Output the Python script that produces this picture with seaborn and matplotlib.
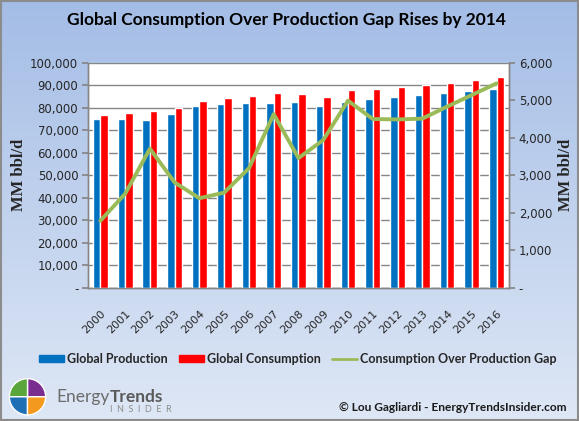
import numpy as np
import pandas as pd
import matplotlib
matplotlib.use('Agg')
import matplotlib.pyplot as plt
import seaborn as sns
from matplotlib.patches import Patch, Wedge, Rectangle
from matplotlib.lines import Line2D

# Data
years = ['2000', '2001', '2002', '2003', '2004', '2005', '2006', '2007', '2008',
         '2009', '2010', '2011', '2012', '2013', '2014', '2015', '2016']
production = [74900, 74900, 74450, 77100, 80670, 81560, 82000, 82000, 82440,
              80670, 82440, 83780, 84670, 85560, 86440, 87330, 88220]
consumption = [76670, 77700, 78440, 79930, 82900, 84220, 85100, 86440, 86000,
               84670, 87780, 88220, 89100, 90000, 91040, 92220, 93560]
gap = [1790, 2510, 3710, 2810, 2390, 2540, 3190, 4630, 3460,
       3940, 4990, 4500, 4490, 4510, 4830, 5140, 5450]

left_ticks = [0, 10000, 20000, 30000, 40000, 50000, 60000, 70000, 80000, 90000, 100000]
left_labels = ['-', '10,000', '20,000', '30,000', '40,000', '50,000',
               '60,000', '70,000', '80,000', '90,000', '100,000']
right_ticks = [0, 1000, 2000, 3000, 4000, 5000, 6000]
right_labels = ['-', '1,000', '2,000', '3,000', '4,000', '5,000', '6,000']

series_names = ['Global Production', 'Global Consumption', 'Consumption Over Production Gap']
blue, red, green = '#0070C0', '#FF0000', '#9BBB59'
grid_gray = '#868686'

df = pd.DataFrame({
    'Year': years * 2,
    'Value': production + consumption,
    'Series': [series_names[0]] * len(years) + [series_names[1]] * len(years),
})

sns.set_theme(style='white')
# ticks in a Verdana-like face, titles/legend in Lato
plt.rcParams['font.family'] = ['DejaVu Sans']
ui_font = ['Lato', 'DejaVu Sans']

fig = plt.figure(figsize=(5.79, 4.21), dpi=100)

# background gradient + border
bg = fig.add_axes([0, 0, 1, 1], zorder=-5)
grad = np.linspace(0, 1, 256).reshape(-1, 1)
top_c = np.array([164, 189, 230]) / 255
bot_c = np.array([222, 231, 245]) / 255
img = top_c + (bot_c - top_c) * grad[:, :, None]
bg.imshow(img, aspect='auto', extent=[0, 1, 0, 1])
bg.add_patch(Rectangle((0.001, 0.002), 0.997, 0.995, fill=False, ec='#8c8c8c', lw=1.5))
bg.set_xlim(0, 1)
bg.set_ylim(0, 1)
bg.axis('off')

# main chart
ax = fig.add_axes([0.152, 0.316, 0.727, 0.535])
sns.barplot(data=df, x='Year', y='Value', hue='Series', palette=[blue, red],
            width=0.6, saturation=1, legend=False, ax=ax, zorder=3)
ax.set_facecolor('white')
ax.set_ylim(0, 100000)
ax.set_yticks(left_ticks, left_labels)
ax.grid(axis='y', color=grid_gray, lw=1)
ax.grid(axis='x', visible=False)
ax.set_axisbelow(True)
ax.set_xlabel('')
ax.set_ylabel('MM bbl/d', family='Liberation Serif', weight='bold', fontsize=12, labelpad=2)

ax2 = ax.twinx()
sns.pointplot(x=years, y=gap, color=green, markers='', linewidth=2.8, errorbar=None, ax=ax2)
ax2.set_ylim(0, 6000)
ax2.set_yticks(right_ticks, right_labels)
ax2.grid(False)
ax2.set_ylabel('MM bbl/d', family='Liberation Serif', weight='bold', fontsize=12,
               rotation=90, labelpad=4)

ax.set_xlim(-0.5, len(years) - 0.5)
ax.set_xticks(range(len(years)))
ax.set_xticklabels(years, rotation=45, ha='right', va='top', rotation_mode='anchor')
ax.set_xticks(np.arange(-0.5, len(years)), minor=True)
ax.tick_params(axis='x', which='major', length=0, pad=15, labelsize=8)
ax.tick_params(axis='x', which='minor', length=5, color=grid_gray, direction='out')
for a in (ax, ax2):
    a.tick_params(axis='y', length=4, color=grid_gray, direction='out', pad=3, labelsize=8.5)

for a in (ax, ax2):
    a.spines['top'].set_visible(False)
    for s in ('left', 'right', 'bottom'):
        a.spines[s].set_color(grid_gray)
        a.spines[s].set_linewidth(1)

# title
fig.text(0.495, 0.952, 'Global Consumption Over Production Gap Rises by 2014',
         ha='center', va='center', fontsize=12.5, weight='bold', color='black', family=ui_font)

# legend
handles = [Patch(color=blue), Patch(color=red), Line2D([], [], color=green, lw=2)]
fig.legend(handles, series_names, loc='center', bbox_to_anchor=(0.514, 0.147), ncol=3,
           frameon=False, handlelength=2.0, handleheight=0.55,
           handletextpad=0.25, columnspacing=0.9,
           prop={'weight': 'bold', 'size': 9.0, 'family': ui_font})

# logo
logo = fig.add_axes([0.005, 0.0, 0.085, 0.115])
logo.set_xlim(-1.2, 1.2)
logo.set_ylim(-1.2, 1.2)
logo.set_aspect('equal')
logo.axis('off')
for start, col in [(0, '#7B2C8F'), (90, '#5AA63A'), (180, '#1F6FB5'), (270, '#F39A1E')]:
    logo.add_patch(Wedge((0, 0), 0.9, start, start + 90, fc=col, ec='white', lw=1))
t1 = fig.text(0.098, 0.057, 'Energy', fontsize=12.5, color='#6b6b6b', ha='left', va='center',
              family=ui_font)
fig.canvas.draw()
bb = t1.get_window_extent(renderer=fig.canvas.get_renderer())
x_next = bb.x1 / fig.bbox.width
fig.text(x_next, 0.057, 'Trends', fontsize=12.5, color='#5a5a5a', weight='bold', ha='left',
         va='center', family=ui_font)
fig.text(0.19, 0.028, 'I  N  S  I  D  E  R', fontsize=6.5, color='#8c8c8c', ha='left', va='center',
         family=ui_font)

# credit
fig.text(0.979, 0.031, '\u00a9 Lou Gagliardi - EnergyTrendsInsider.com', ha='right', va='center',
         fontsize=8.6, weight='bold', color='#1a1a1a', family=ui_font)

fig.savefig('out.png', dpi=100)
